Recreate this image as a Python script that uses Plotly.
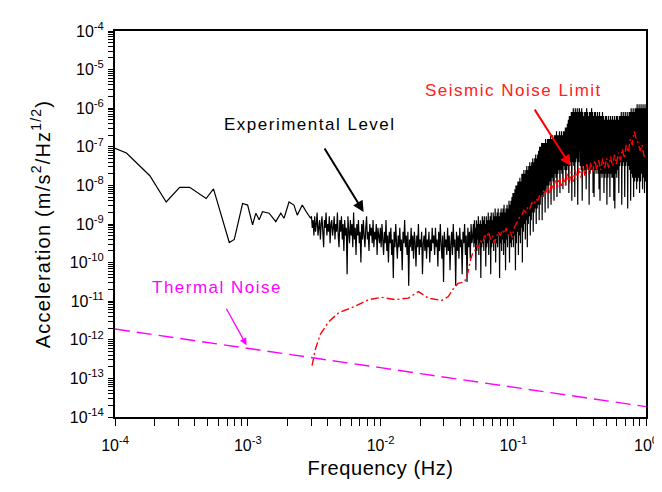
import numpy as np
import plotly.graph_objects as go

# ---------------- data ----------------
# Experimental level, low-frequency part (smooth polyline)
exp_low_freq = [1.00e-4, 1.22e-4, 1.83e-4, 2.43e-4, 3.07e-4, 3.65e-4, 4.86e-4, 5.52e-4,
                7.26e-4, 7.92e-4, 9.14e-4, 9.98e-4, 1.087e-3, 1.151e-3, 1.219e-3, 1.291e-3,
                1.449e-3, 1.626e-3, 1.774e-3, 1.875e-3, 2.046e-3, 2.228e-3, 2.360e-3,
                2.576e-3, 2.805e-3, 2.972e-3]
exp_low_log10 = [-7.04, -7.16, -7.75, -8.43, -8.05, -8.05, -8.34, -8.09, -9.48, -9.40, -8.47,
                 -8.51, -9.02, -8.72, -8.89, -8.68, -8.72, -8.94, -8.72, -8.85, -8.43, -8.51,
                 -8.77, -8.51, -8.72, -8.85]

# Experimental level, noisy part A (3.0e-3 .. 0.05 Hz), log10 of acceleration
exp_noiseA_range = (3.02e-3, 0.0495)
exp_noiseA_log10 = [
    -8.8, -9.1, -8.9, -9.3, -8.8, -9.2, -9.0, -8.7, -9.3, -9.1, -8.9, -9.4, -9.0, -8.8, -9.2, -9.6, -8.9, -9.1,
    -8.7, -9.3, -9.0, -9.2, -8.8, -9.5, -9.0, -8.9, -9.3, -9.1, -8.8, -9.4, -9.0, -9.2, -8.7, -9.3, -9.6, -8.9,
    -9.2, -8.8, -9.4, -9.0, -9.7, -8.9, -9.3, -9.1, -10.3, -8.8, -9.2, -9.5, -8.9, -9.3, -9.0, -9.6, -8.7, -9.4,
    -9.1, -9.8, -9.0, -9.3, -8.9, -9.5, -9.2, -10.0, -9.0, -9.4, -8.9, -9.3, -9.6, -9.1, -8.8, -9.4, -9.2, -9.7,
    -9.0, -9.3, -9.1, -9.5, -8.9, -9.6, -9.2, -9.4, -9.0, -9.8, -9.1, -9.3, -9.5,
    -9.1, -9.6, -9.0, -9.4, -9.8, -9.2, -9.5, -8.9, -9.7, -9.3, -10.0, -9.2, -9.5, -9.1, -9.8, -9.4, -10.4, -9.2,
    -9.6, -9.0, -9.5, -9.9, -9.3, -9.6, -9.1, -9.7, -9.4, -10.2, -9.2, -9.5, -8.9, -9.6, -9.3, -9.8, -9.2, -10.6,
    -9.4, -9.6, -9.1, -9.7, -9.3, -9.9, -9.2, -9.5, -10.1, -9.3, -9.6, -9.0, -9.8, -9.4, -9.6, -9.2, -10.3, -9.5,
    -9.3, -9.7, -9.1, -9.9, -9.4, -9.6, -9.2, -10.0, -9.4, -9.7, -9.1, -9.5,
    -9.3, -9.8, -9.1, -9.6, -9.4, -10.1, -9.2, -9.7, -9.0, -9.5, -9.9, -9.3, -10.5, -9.2, -9.6, -9.4, -9.8, -9.1,
    -9.7, -9.3, -10.2, -9.5, -9.2, -9.8, -9.0, -9.6, -9.4, -10.6, -9.2, -9.7, -9.3, -9.9, -9.1, -9.6, -9.4, -10.3,
    -9.2, -9.5, -9.0, -9.8, -9.3, -10.5, -9.1, -9.6, -9.2, -9.9, -9.0, -9.5, -9.3,
]

# Experimental level, noisy part B (0.05 .. 1 Hz), log10 of acceleration
exp_noiseB_range = (0.0501, 1.0)
exp_noiseB_log10 = [
    -9.0, -9.6, -8.9, -9.5, -9.1, -10.2, -8.9, -9.7, -9.0, -9.4, -8.8, -9.8, -9.0, -9.5, -8.9, -10.4, -9.0, -9.6, -8.8, -9.5,
    -8.9, -9.7, -8.8, -9.4, -9.0, -10.1, -8.8, -9.6, -8.9, -9.5, -8.7, -9.8, -8.9, -9.4, -8.8, -10.3, -8.7, -9.6, -8.9, -9.5,
    -8.7, -9.7, -8.8, -9.4, -8.6, -10.0, -8.8, -9.5, -8.7, -9.6, -8.6, -9.3, -8.8, -10.4, -8.7, -9.5, -8.6, -9.7, -8.7, -9.4,
    -8.6, -9.8, -8.5, -9.5, -8.7, -10.2, -8.6, -9.4, -8.5, -9.6, -8.6, -9.3, -8.4, -10.0, -8.5, -9.5, -8.4, -9.6, -8.3, -9.4,
    -8.2, -9.6, -8.2, -9.3, -8.1, -10.2, -8.0, -9.5, -8.0, -9.2, -7.9, -9.8, -7.9, -9.3, -7.8, -9.5, -7.9, -9.1, -7.7, -10.0,
    -7.7, -9.2, -7.6, -9.0, -7.7, -9.4, -7.6, -8.9, -7.5, -9.6, -7.6, -9.0, -7.5, -8.8, -7.4, -9.3, -7.5, -8.9, -7.4, -8.7,
    -7.3, -9.2, -7.4, -8.7, -7.3, -8.6, -7.2, -9.0, -7.3, -8.6, -7.2, -8.5, -7.1, -8.9,
    -7.0, -8.5, -7.0, -8.3, -6.9, -8.9, -6.9, -8.3, -6.9, -8.2, -6.9, -8.7, -6.8, -8.1, -6.9, -8.0, -6.8, -8.6, -6.8, -8.0,
    -6.8, -7.9, -6.7, -8.5, -6.8, -7.8, -6.7, -7.9, -6.8, -8.4, -6.7, -7.7, -6.7, -7.8, -6.6, -8.3, -6.7, -7.7, -6.7, -7.6,
    -6.6, -8.2, -6.7, -7.6, -6.6, -7.7, -6.7, -8.1, -6.6, -7.5, -6.6, -7.6, -6.5, -8.0,
    -6.5, -7.6, -6.4, -7.5, -6.3, -8.2, -6.2, -7.5, -6.2, -7.4, -6.1, -8.4, -6.1, -7.4, -6.0, -7.5, -6.1, -8.3, -6.0, -7.4,
    -6.1, -7.3, -6.0, -8.5, -6.1, -7.4, -6.0,
    -6.1, -7.5, -6.1, -7.6, -6.0, -8.4, -6.1, -7.5, -6.2, -7.6, -6.1, -7.7, -6.1, -8.1, -6.0, -7.5, -6.1, -7.6, -6.2, -8.5,
    -6.1, -7.7, -6.1, -7.6, -6.0, -7.6, -6.1, -8.2, -6.2, -8.3, -6.1, -7.6, -6.1, -7.7, -6.2, -7.6, -6.1, -7.7, -6.2, -8.1,
    -6.1, -8.4, -6.2, -7.7, -6.2, -7.8, -6.1, -7.7, -6.2, -8.2, -6.3, -7.8, -6.2, -7.7, -6.2, -8.5, -6.3, -7.8, -6.2, -7.7,
    -6.3, -8.3, -6.2, -7.7, -6.3, -7.8, -6.2, -7.8, -6.3, -8.4, -6.2, -8.6, -6.3, -7.7, -6.2, -7.8, -6.2, -7.6, -6.3, -8.2,
    -6.2, -7.5, -6.2, -7.4, -6.1, -8.5, -6.2, -7.5, -6.1, -7.4, -6.2, -8.3, -6.1, -7.5, -6.2, -7.4, -6.1, -8.6, -6.2, -7.5,
    -6.1, -7.6, -6.1, -8.4, -6.0, -7.7, -6.1, -7.8, -6.0, -8.3, -6.1, -7.9, -6.0, -7.8, -6.0, -8.1, -5.9, -7.9, -6.0, -7.8,
    -5.9, -8.2, -6.0, -7.9, -5.9, -7.7, -6.0, -8.1, -5.9, -7.8, -6.0, -8.2, -5.9, -7.9, -6.0,
]

# Seismic noise limit: low part (explicit points) and high part (dense, 0.048 .. 1 Hz)
seis_low_freq = [3.05e-3, 3.24e-3, 3.53e-3, 4.07e-3, 4.84e-3, 6.46e-3, 8.13e-3, 1.02e-2, 1.29e-2,
                 1.62e-2, 1.93e-2, 2.29e-2, 2.88e-2, 3.24e-2, 3.55e-2, 3.84e-2, 4.31e-2, 4.57e-2]
seis_low_log10 = [-12.67, -12.23, -11.85, -11.53, -11.30, -11.13, -10.96, -10.90, -10.96,
                  -10.92, -10.75, -10.92, -10.98, -10.88, -10.67, -10.54, -10.50, -10.24]
seis_high_range = (0.0479, 1.0)
seis_high_log10 = [
    -9.9, -9.75, -9.7, -9.55, -9.62, -9.45, -9.5, -9.3, -9.35, -9.2, -9.4, -9.3, -9.5, -9.35, -9.2, -9.3,
    -9.15, -9.25, -9.1, -9.3, -9.2, -9.35, -9.1, -9.0, -8.9, -8.8, -8.75, -8.65, -8.7, -8.55, -8.6, -8.45,
    -8.5, -8.35, -8.4, -8.25, -8.3, -8.15, -8.2, -8.05,
    -8.2, -7.9, -8.1, -7.85, -8.05, -7.8, -8.05, -7.8, -8.0, -7.7, -7.95, -7.65, -7.9, -7.6, -7.85, -7.55,
    -7.8, -7.5, -7.75, -7.45, -7.7, -7.4, -7.65, -7.35, -7.6, -7.35, -7.6, -7.3, -7.55, -7.3, -7.55, -7.25,
    -7.5, -7.2, -7.45, -7.15, -7.35, -7.05, -7.3, -6.95, -7.15, -6.8, -6.95, -6.6, -6.8, -6.9, -7.1, -6.95,
    -7.25, -7.2,
]

# Thermal noise
thermal_freq = [1e-4, 2e-4, 5e-4, 1e-3, 2e-3, 5e-3, 1e-2, 2e-2, 5e-2, 0.1, 0.2, 0.5, 1.0]
thermal_accel = [1.9e-12, 1.35e-12, 8.5e-13, 6.0e-13, 4.3e-13, 2.7e-13, 1.9e-13, 1.33e-13,
                 8.4e-14, 5.9e-14, 4.2e-14, 2.6e-14, 1.86e-14]

# Axis ticks: labelled decades plus unlabelled 2..9 subdivisions
x_tick_exps = [-4, -3, -2, -1, 0]
y_tick_exps = list(range(-14, -3))

# ---------------- assemble series ----------------
exp_freq = (exp_low_freq
            + list(np.geomspace(*exp_noiseA_range, len(exp_noiseA_log10)))
            + list(np.geomspace(*exp_noiseB_range, len(exp_noiseB_log10))))
exp_accel = [10.0 ** v for v in exp_low_log10 + exp_noiseA_log10 + exp_noiseB_log10]

seis_freq = seis_low_freq + list(np.geomspace(*seis_high_range, len(seis_high_log10)))
seis_accel = [10.0 ** v for v in seis_low_log10 + seis_high_log10]


def decade_ticks(exps):
    vals, text = [], []
    for i, e in enumerate(exps):
        vals.append(10.0 ** e)
        text.append(f"10<sup>{e}</sup>")
        if i < len(exps) - 1:
            for m in range(2, 10):
                vals.append(m * 10.0 ** e)
                text.append("")
    return vals, text


x_vals, x_text = decade_ticks(x_tick_exps)
y_vals, y_text = decade_ticks(y_tick_exps)

FONT = "Liberation Sans, Arial, Helvetica, sans-serif"

fig = go.Figure()
fig.add_trace(go.Scatter(x=exp_freq, y=exp_accel, mode="lines",
                         line=dict(color="#000000", width=1.2, simplify=False),
                         name="Experimental Level", showlegend=False))
fig.add_trace(go.Scatter(x=seis_freq, y=seis_accel, mode="lines",
                         line=dict(color="#ff0000", width=1.4, dash="8px,3px,2px,3px", simplify=False),
                         name="Seismic Noise Limit", showlegend=False))
fig.add_trace(go.Scatter(x=thermal_freq, y=thermal_accel, mode="lines",
                         line=dict(color="#ff00ff", width=1.4, dash="15px,7px"),
                         name="Thermal Noise", showlegend=False))

common = dict(type="log", showgrid=False, zeroline=False)

fig.update_layout(
    xaxis=dict(**common, range=[-4, 0],
               showline=True, linecolor="black", linewidth=2, mirror=True,
               ticks="outside", ticklen=7, tickwidth=1.3, tickcolor="black",
               tickmode="array", tickvals=x_vals, ticktext=x_text, ticklabelstandoff=6,
               tickfont=dict(family=FONT, size=16, color="black"),
               title=dict(text='<span style="letter-spacing:0.6px">Frequency (Hz)</span>',
                          font=dict(family=FONT, size=20, color="black"), standoff=8)),
    yaxis=dict(**common, range=[-14, -4],
               showline=True, linecolor="black", linewidth=2, mirror=True,
               ticks="outside", ticklen=5, tickwidth=1.2, tickcolor="black",
               tickmode="array", tickvals=y_vals, ticktext=y_text, ticklabelstandoff=1,
               tickfont=dict(family=FONT, size=16, color="black"),
               title=dict(text='<span style="letter-spacing:1.2px">Acceleration (m/s<sup>2</sup>/Hz<sup>1/2</sup>)</span>',
                          font=dict(family=FONT, size=20, color="black"), standoff=14)),
)


def label(text, x, y, color):
    return dict(x=x, y=y, xref="x", yref="y", showarrow=False,
                text=f'<span style="letter-spacing:1.5px">{text}</span>',
                font=dict(family=FONT, size=17, color=color),
                xanchor="center", yanchor="middle")


def arrow(x, y, ax, ay, color, width):
    return dict(x=x, y=y, xref="x", yref="y", ax=ax, ay=ay, axref="pixel", ayref="pixel",
                text="", showarrow=True, arrowhead=2, arrowsize=1.1, arrowwidth=width,
                arrowcolor=color, standoff=0)


# the page body adds an 8px offset, so margins are shifted to keep the plot area in place
fig.update_layout(
    width=662, height=492,
    margin=dict(l=107, r=21, t=14, b=83),
    paper_bgcolor="white", plot_bgcolor="white",
    showlegend=False,
    annotations=[
        label("Experimental Level", -2.532, -6.42, "#000000"),
        label("Seismic Noise Limit", -0.995, -5.53, "#ff2020"),
        label("Thermal Noise", -3.235, -10.64, "#ff00ff"),
        arrow(-2.127, -8.69, -40, -65, "#000000", 2),
        arrow(-0.567, -7.50, -37, -58, "#ff0000", 2),
        arrow(-3.009, -12.14, -21, -38, "#ff00ff", 1.3),
    ],
)

fig.write_html("out.html")
